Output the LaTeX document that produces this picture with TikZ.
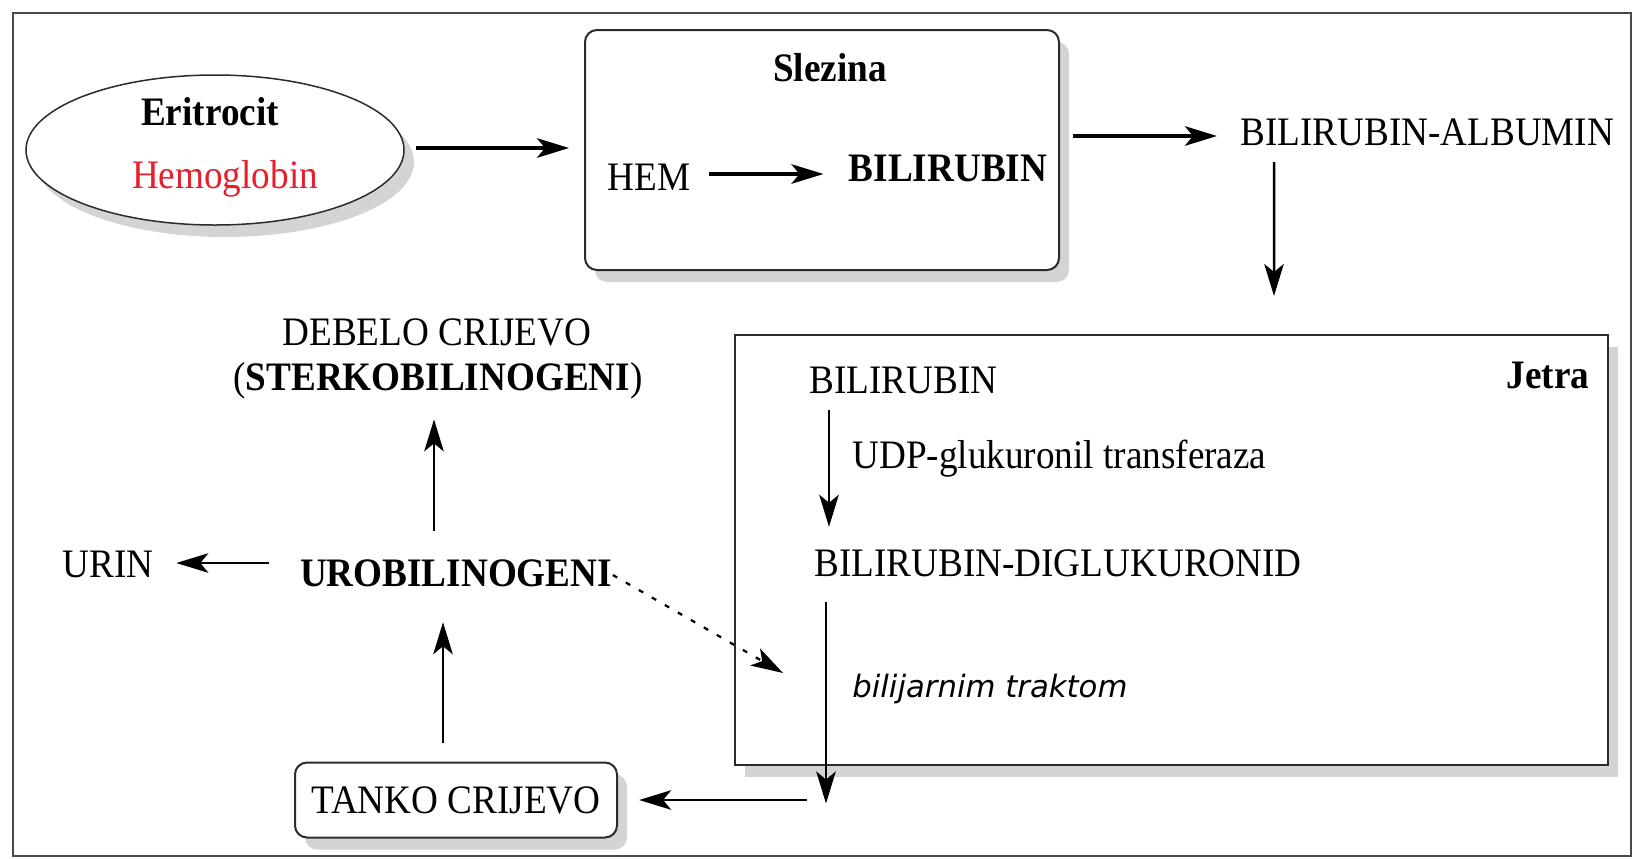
\documentclass[tikz,border=0pt]{standalone}
\usepackage{fontspec}
\setmainfont[FakeStretch=0.92]{Liberation Serif}
\newfontfamily\traktfont{DejaVu Sans}
\usepackage{xcolor}
\usetikzlibrary{shapes.geometric,shadows,arrows.meta}
\definecolor{FrameLine}{HTML}{4A4A4A}
\definecolor{BoxLine}{HTML}{2B2B2B}
\definecolor{ShadowGrey}{HTML}{D4D4D4}
\definecolor{HemRed}{HTML}{E3202B}

\begin{document}
\begin{tikzpicture}[
	x=0.2mm, y=-0.2mm, % one unit = one pixel, y grows downward
	% Style for the plain text labels
	txt/.style={
		inner sep=0pt,
		text depth=0pt,
		font=\fontsize{23}{27}\selectfont
	},
	txt bold/.style={
		txt,
		font=\fontsize{23}{27}\selectfont\bfseries
	},
	% Style for the organ boxes (with grey shadow)
	organ/.style={
		draw=BoxLine,
		line width=0.4mm,
		fill=white,
		drop shadow={shadow xshift=2mm, shadow yshift=-2.4mm, fill=ShadowGrey, opacity=1}
	},
	% Styles for the arrows
	flow/.style={
		-{Stealth[length=6.4mm, width=3.9mm, inset=1.6mm]},
		line width=0.5mm
	},
	flow thick/.style={
		flow,
		line width=0.7mm
	},
	flow dotted/.style={
		flow,
		line width=0.45mm,
		dash pattern=on 1mm off 2mm
	}
	]
	
	\useasboundingbox (0,0) rectangle (1633,858);
	\draw[FrameLine, line width=0.4mm] (12.6,12.6) rectangle (1631,856);
	
	% ================= NODES =================
	\node[organ, ellipse, line width=0.3mm, minimum width=75.6mm, minimum height=30mm] (eritrocit) at (215,150) {};
	\node[txt bold] (eriT) at (210,111) {Eritrocit};
	\node[txt, text=HemRed] (hemoglobin) at (225,174) {Hemoglobin};
	
	\node[organ, rounded corners=2.4mm, minimum width=94.8mm, minimum height=48mm] (slezina) at (822,150) {};
	\node[txt bold] (slezinaT) at (830,67) {Slezina};
	\node[txt] (hem) at (649,177) {HEM};
	\node[txt bold] (bilS) at (948,168) {BILIRUBIN};
	
	\node[txt, anchor=west] (albumin) at (1240,132) {BILIRUBIN-ALBUMIN};
	
	\node[organ, minimum width=174.6mm, minimum height=86mm] (jetra) at (1171.5,550) {};
	\node[txt bold] (jetraT) at (1548,375) {Jetra};
	\node[txt, anchor=west] (bilJ) at (809,380) {BILIRUBIN};
	\node[txt, anchor=west] (udp) at (852,454) {UDP-glukuronil transferaza};
	\node[txt, anchor=west] (diglu) at (814,563) {BILIRUBIN-DIGLUKURONID};
	\node[txt, anchor=west, font=\traktfont\itshape\fontsize{17.5}{21}\selectfont] (trakt) at (852,686) {bilijarnim traktom};
	\coordinate (izlaz) at (826,800);
	
	\node[organ, rounded corners=2.4mm, minimum width=64.4mm, minimum height=15mm, txt, inner sep=0pt] (tanko) at (456,800) {TANKO CRIJEVO};
	\node[txt bold] (urobil) at (456,573) {UROBILINOGENI};
	\node[txt] (urin) at (108,564) {URIN};
	\node[txt] (debelo) at (437,332) {DEBELO CRIJEVO};
	\node[txt] (sterko) at (438,376) {(\textbf{STERKOBILINOGENI})};
	
	% ================= EDGES =================
	\draw[flow thick] ([shift={(11,-2)}]eritrocit.east) -- ([shift={(-15,-2)}]slezina.west);
	\draw[flow thick] ([shift={(18,-3)}]hem.east) -- ([shift={(-25,6)}]bilS.west);
	\draw[flow thick] ([shift={(13,-14)}]slezina.east) -- ([shift={(-23,4)}]albumin.west);
	\draw[flow] ([shift={(34,16.5)}]albumin.south west) -- ([shift={(102.5,-38)}]jetra.north);
	\draw[flow] ([shift={(20,16.5)}]bilJ.south west) -- ([shift={(15,-22.5)}]diglu.north west);
	\draw[flow] ([shift={(12,25.5)}]diglu.south west) -- ([yshift=-2]izlaz);
	\draw[flow] ([xshift=-11]izlaz) -- ([xshift=12]tanko.east);
	\draw[flow] ([shift={(-13,-18.5)}]tanko.north) -- ([shift={(-13,35.5)}]urobil.south);
	\draw[flow] ([shift={(-30.5,-10)}]urobil.west) -- ([shift={(22.5,-1)}]urin.east);
	\draw[flow] ([shift={(-22,-28.5)}]urobil.north) -- ([shift={(-4,29)}]sterko.south);
	\draw[flow dotted] ([shift={(0.5,2)}]urobil.east) -- ([shift={(-69,-13)}]trakt.west);
	
\end{tikzpicture}
\end{document}
